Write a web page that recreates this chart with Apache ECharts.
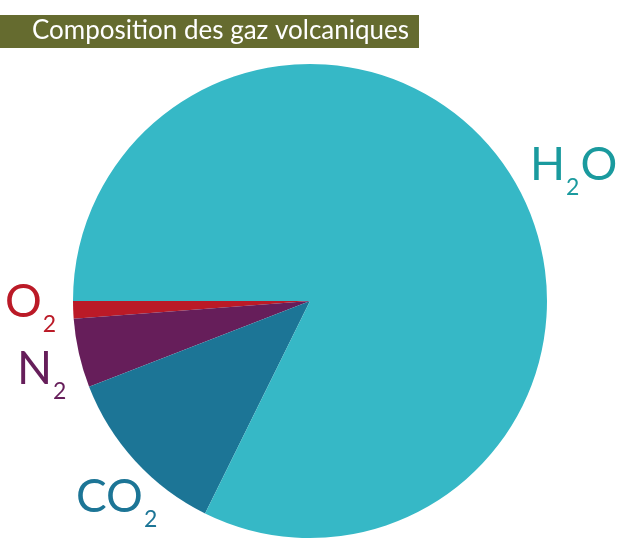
<!DOCTYPE html>
<html>
<head>
<meta charset="utf-8">
<script src="https://cdn.jsdelivr.net/npm/echarts@6/dist/echarts.min.js"></script>
<style>html,body{margin:0;padding:0;background:#fff;}#c{width:627px;height:555px;}</style>
</head>
<body>
<div id="c"></div>
<script>
var titleText = 'Composition des gaz volcaniques';
var gasNames = ['O2', 'N2', 'CO2', 'H2O'];
var gasLabels = ['{m|O}{s|2}', '{m|N}{s|2}', '{m|CO}{s|2}', '{m|H}{s|2}{m|O}'];
var gasValues = [1.2, 4.7, 11.8, 82.3];
var sliceColors = ['#bb1a27', '#661e5a', '#1c7596', '#36b8c6'];
var labelColors = ['#bb1a27', '#661e5a', '#1c7596', '#1a9a9e'];
var labelPos = [[5, 300], [17, 367], [76, 495], [530, 163]];

var chart = echarts.init(document.getElementById('c'), null, {renderer: 'canvas'});
var data = gasNames.map(function (n, i) {
  return {
    name: n,
    value: gasValues[i],
    itemStyle: {color: sliceColors[i]},
    label: {
      formatter: gasLabels[i],
      rich: {
        m: {fontFamily: 'Lato', fontSize: 46, color: labelColors[i], verticalAlign: 'bottom', lineHeight: 50},
        s: {fontFamily: 'Lato', fontSize: 23, color: labelColors[i], verticalAlign: 'bottom', lineHeight: 50, padding: [0, 1, -11, 1]}
      }
    }
  };
});
chart.setOption({
  animation: false,
  graphic: [{type: 'rect', left: 0, top: 15, shape: {width: 419, height: 33}, style: {fill: '#656b2f'}, z: -1}],
  title: {
    text: titleText, left: 32, top: 15,
    padding: [3, 0, 0, 0],
    textStyle: {fontFamily: 'Lato', fontSize: 26, fontWeight: 'normal', color: '#ffffff'}
  },
  series: [{
    type: 'pie',
    center: [310, 301],
    radius: 237,
    startAngle: 180,
    clockwise: false,
    silent: true,
    label: {show: true, position: 'outside', overflow: 'none', width: 200, alignTo: 'none', bleedMargin: 0},
    labelLine: {show: false},
    labelLayout: function (p) {
      return {x: labelPos[p.dataIndex][0], y: labelPos[p.dataIndex][1], align: 'left', verticalAlign: 'middle'};
    },
    data: data
  }]
});
</script>
</body>
</html>
